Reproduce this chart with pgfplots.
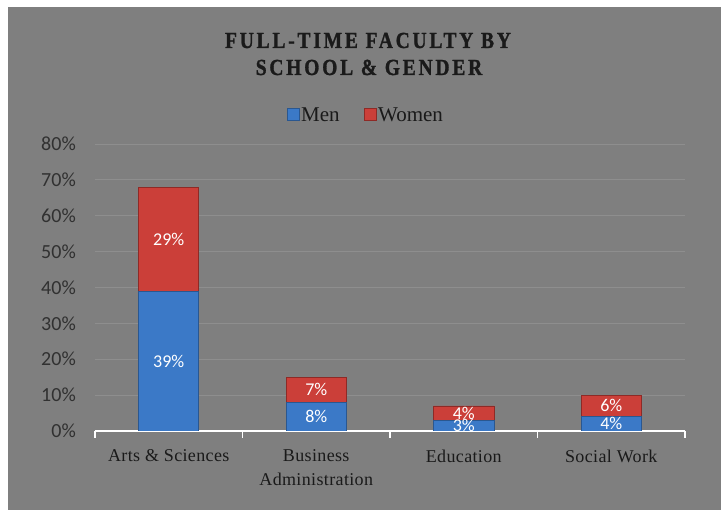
\documentclass[border=0pt]{standalone}
\usepackage{fontspec}
\setmainfont{Liberation Serif}
\newfontfamily\calibri{Carlito}
\newfontfamily\titlefont[FakeStretch=0.85,LetterSpace=12,FakeBold=1.2]{Liberation Serif}
\newfontfamily\catfont[LetterSpace=2]{Liberation Serif}
\usepackage{pgfplots}
\pgfplotsset{compat=1.18}
\definecolor{bg}{HTML}{7F7F7F}
\definecolor{gridc}{HTML}{8E8E8E}
\definecolor{blueM}{HTML}{3B79C7}
\definecolor{blueD}{HTML}{2A5790}
\definecolor{redM}{HTML}{CB3F39}
\definecolor{redD}{HTML}{8E2A26}
\definecolor{txt}{HTML}{1A1A1A}
\begin{document}
\begin{tikzpicture}[x=1pt,y=1pt]
\fill[white] (0,0) rectangle (721,510);
\fill[bg] (8,0) rectangle (721,503);
\node[font=\titlefont\bfseries\fontsize{23}{23}\selectfont, anchor=base, text=txt] at (368,462) {FULL-TIME FACULTY BY};
\node[font=\titlefont\bfseries\fontsize{23}{23}\selectfont, anchor=base, text=txt] at (369,435) {SCHOOL \& GENDER};
\begin{axis}[
  at={(95pt,79pt)}, anchor=south west, scale only axis,
  width=590pt, height=287pt,
  xmin=-0.5, xmax=3.5, ymin=0, ymax=80,
  ybar stacked, bar width=60pt,
  axis x line*=bottom, axis y line*=left,
  y axis line style={draw=none},
  x axis line style={white, line width=2pt, -},
  xtick={0,1,2,3},
  xticklabels={Arts \& Sciences, {Business\\Administration}, Education, Social Work},
  major x tick style={draw=none},
  minor xtick={-0.5,0.5,1.5,2.5,3.5},
  minor x tick style={white, line width=1.5pt},
  minor tick length=7pt, major tick length=0pt, tick align=outside,
  ytick={0,10,...,80},
  ytick style={draw=none},
  ymajorgrids, grid style={color=gridc, line width=0.8pt},
  yticklabel={\pgfmathprintnumber{\tick}\%},
  /pgf/number format/assume math mode=true,
  yticklabel style={font=\calibri\fontsize{20}{20}\selectfont, text=txt!90, inner xsep=0pt, xshift=-19pt},
  xticklabel style={font=\catfont\fontsize{18}{24}\selectfont, align=center, text=txt, anchor=north, yshift=-15pt},
  nodes near coords={\pgfmathprintnumber{\myraw}\%},
  visualization depends on={rawy \as \myraw},
  every node near coord/.append style={font=\calibri\fontsize{18}{18}\selectfont, text=white, anchor=center},
  legend style={at={(0.459,1.101)}, anchor=center, draw=none, fill=none, legend columns=2,
    font=\fontsize{21}{21}\selectfont, text=txt,
    /tikz/every even column/.append style={column sep=22pt}},
  legend image code/.code={\path[#1] (0pt,-5pt) rectangle (12pt,7pt);},
]
\addplot[draw=blueD, line width=0.5pt, fill=blueM]
  coordinates {(0,39) (1,8) (2,3) (3,4)};
\addplot[draw=redD, line width=0.5pt, fill=redM]
  coordinates {(0,29) (1,7) (2,4) (3,6)};
\legend{Men, Women}
\end{axis}
\end{tikzpicture}
\end{document}
